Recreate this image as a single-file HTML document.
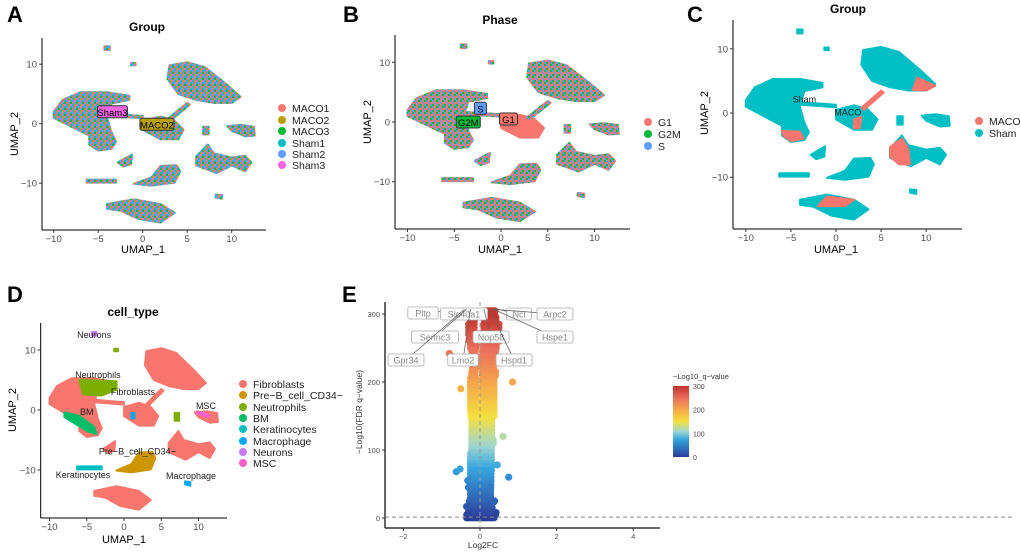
<!DOCTYPE html>
<html><head><meta charset="utf-8">
<style>
body{margin:0;background:#fff;}
svg{display:block;font-family:"Liberation Sans",sans-serif;}
</style></head>
<body>
<svg id="fig" width="1020" height="554" viewBox="0 0 1020 554" xmlns="http://www.w3.org/2000/svg">
<defs>
<pattern id="mix6" width="6" height="6" patternUnits="userSpaceOnUse">
<rect width="6" height="6" fill="#9aa37a"/>
<rect x="0" y="0" width="2" height="2" fill="#F8766D"/><rect x="2" y="0" width="2" height="2" fill="#619CFF"/><rect x="4" y="0" width="2" height="2" fill="#00BA38"/>
<rect x="0" y="2" width="2" height="2" fill="#00BFC4"/><rect x="2" y="2" width="2" height="2" fill="#B79F00"/><rect x="4" y="2" width="2" height="2" fill="#F564E3"/>
<rect x="0" y="4" width="2" height="2" fill="#619CFF"/><rect x="2" y="4" width="2" height="2" fill="#F8766D"/><rect x="4" y="4" width="2" height="2" fill="#00BFC4"/>
</pattern>
<pattern id="mix3" width="6" height="6" patternUnits="userSpaceOnUse">
<rect width="6" height="6" fill="#e07a78"/>
<rect x="0" y="0" width="2" height="2" fill="#F8766D"/><rect x="2" y="0" width="2" height="2" fill="#619CFF"/><rect x="4" y="0" width="2" height="2" fill="#F8766D"/>
<rect x="0" y="2" width="2" height="2" fill="#00BA38"/><rect x="2" y="2" width="2" height="2" fill="#F8766D"/><rect x="4" y="2" width="2" height="2" fill="#619CFF"/>
<rect x="0" y="4" width="2" height="2" fill="#619CFF"/><rect x="2" y="4" width="2" height="2" fill="#F8766D"/><rect x="4" y="4" width="2" height="2" fill="#00BA38"/>
</pattern>
<linearGradient id="cbar" x1="0" y1="1" x2="0" y2="0">
<stop offset="0" stop-color="#2b3d9a"/><stop offset="0.25" stop-color="#35a6e0"/><stop offset="0.36" stop-color="#9fd6cf"/><stop offset="0.5" stop-color="#f4e03e"/><stop offset="0.67" stop-color="#f5a64a"/><stop offset="0.83" stop-color="#ec6e5c"/><stop offset="1" stop-color="#c3322c"/>
</linearGradient>
</defs>
</svg>
<script>
const NS='http://www.w3.org/2000/svg';
const fig=document.getElementById('fig');
function mk(tag,attrs,parent,text){const e=document.createElementNS(NS,tag);for(const k in attrs)e.setAttribute(k,attrs[k]);if(text!==undefined)e.textContent=text;(parent||fig).appendChild(e);return e;}

// ---------- UMAP cluster shapes (data coords) ----------
const clusterNames=['main-left','top-right','center','right-small','right-middle','crescent','bottom','small-mid','strip-left','dot-top','dot-top2','dot-right','dot-center'];
const clusterShapes=[
[[-10,2],[-9,4],[-7,5.3],[-4,5.3],[-1.5,4.7],[-1.5,4],[-3.5,3.4],[-4,1],[-3.5,-1.5],[-3,-3],[-3.5,-4.2],[-5,-4.5],[-6,-3.5],[-6,-2],[-8,-0.5],[-10,1]],
[[5,10.3],[3,9.8],[2.8,7.5],[4,5],[6,4],[8,3.5],[10,3.5],[11,4.5],[9.5,6.5],[7,9.5]],
[[0,0.5],[2,1.2],[3.5,0.6],[4.6,-1],[4,-2.6],[2,-2.6],[0,-1]],
[[9.5,-0.4],[11,-0.2],[12.5,-0.5],[12.6,-2],[11.5,-2.1],[10,-1.2]],
[[6,-5.5],[7.3,-3.5],[8,-5],[10,-5.7],[11.5,-5.4],[12.2,-6.5],[11.5,-8],[10,-7],[8.3,-8.3],[6,-7]],
[[3.8,-7],[2,-7.1],[1,-9],[-1,-10.1],[1,-10.4],[3.6,-9.9],[4.2,-8]],
[[-4,-13.5],[-1,-12.7],[2,-13.5],[3.6,-15],[2,-16.6],[-0.5,-16],[-2.5,-14.6],[-4,-14.3]],
[[-2.8,-6.5],[-1.2,-5.2],[-1.3,-6.8],[-2.2,-7.2]],
[[-6.3,-9.4],[-3,-9.4],[-3,-9.9],[-6.3,-9.9]],
[[-4.3,13],[-3.7,13],[-3.7,12.4],[-4.3,12.4]],
[[-1.3,10.2],[-0.8,10.2],[-0.8,9.8],[-1.3,9.8]],
[[8.2,-11.9],[8.9,-12],[8.9,-12.6],[8.2,-12.4]],
[[6.8,-0.5],[7.4,-0.5],[7.4,-1.8],[6.8,-1.8]]
];
const bridge=[[-4,1.7],[0,1.3],[0,0.9],[-4,1.3]];
const bridge2=[[2.8,0.8],[5,3.5],[5.3,3.2],[3.1,0.5]];

const panels={
 A:{x0:142.7,ux:8.9,y0:123.7,uy:5.95,ax:42,ayTop:38,ayBot:230,axR:266},
 B:{x0:501,ux:9.35,y0:122,uy:5.97,ax:395,ayTop:35,ayBot:229,axR:630},
 C:{x0:836,ux:9.02,y0:113,uy:6.42,ax:733,ayTop:20,ayBot:229,axR:962},
 D:{x0:124,ux:7.45,y0:410,uy:6.0,ax:40.7,ayTop:323,ayBot:518,axR:227}
};
const umapXTicks=[-10,-5,0,5,10];
const umapYTicks=[-10,0,10];

function px(p,x){return p.x0+p.ux*x;}
function py(p,y){return p.y0-p.uy*y;}
function poly(p,pts,fill,g,name){
 const d=pts.map((q,i)=>(i?'L':'M')+px(p,q[0]).toFixed(1)+' '+py(p,q[1]).toFixed(1)).join(' ')+'Z';
 const e=mk('path',{d:d,fill:fill,stroke:fill,'stroke-width':2,'stroke-linejoin':'round'},g);
 
 
 return e;
}
function umapAxes(p,g,xlx,ylx,yly,xly){
 mk('line',{x1:p.ax,y1:p.ayTop,x2:p.ax,y2:p.ayBot,stroke:'#000','stroke-width':1},g);
 mk('line',{x1:p.ax,y1:p.ayBot,x2:p.axR,y2:p.ayBot,stroke:'#000','stroke-width':1},g);
 umapXTicks.forEach(t=>{const x=px(p,t);mk('line',{x1:x,y1:p.ayBot,x2:x,y2:p.ayBot+3,stroke:'#333'},g);
  const tl=mk('text',{x:x,y:p.ayBot+12,'font-size':9.5,fill:'#4d4d4d','text-anchor':'middle'},g,t===0?'0':String(t).replace('-','\u2212'));
  
  });
 umapYTicks.forEach(t=>{const y=py(p,t);mk('line',{x1:p.ax-3,y1:y,x2:p.ax,y2:y,stroke:'#333'},g);
  const tl=mk('text',{x:p.ax-5,y:y+3.5,'font-size':9.5,fill:'#4d4d4d','text-anchor':'end'},g,t===0?'0':String(t).replace('-','\u2212'));
  
  });
 const xl=mk('text',{x:xlx,y:xly,'font-size':11,fill:'#000','text-anchor':'middle'},g,'UMAP_1');
 
 
 const yl=mk('text',{x:ylx,y:yly,'font-size':11,fill:'#000','text-anchor':'middle',transform:`rotate(-90 ${ylx} ${yly})`},g,'UMAP_2');
 
 
}
function panelLetter(t,x,y){const e=mk('text',{x:x,y:y,'font-size':22,'font-weight':'bold'},fig,t);}
function title(t,x,y,g){const e=mk('text',{x:x,y:y,'font-size':12,'font-weight':'bold','text-anchor':'middle'},g,t);}
function legend(g,items,colors,cx,ys,tx){
 items.forEach((it,i)=>{const c=mk('circle',{cx:cx,cy:ys[i],r:4,fill:colors[i]},g);
  const t=mk('text',{x:tx,y:ys[i]+4,'font-size':10.5,fill:'#222'},g,it);});
}
function boxLabel(g,p,x,y,text,fill,w){
 const X=px(p,x),Y=py(p,y);
 mk('rect',{x:X-w/2,y:Y-6,width:w,height:12,rx:2,fill:fill,stroke:'#333','stroke-width':1},g);
 const t=mk('text',{x:X,y:Y+4,'font-size':9.5,'text-anchor':'middle',fill:'#000'},g,text);
 
 
}
function plainLabel(g,p,x,y,text){const t=mk('text',{x:px(p,x),y:py(p,y),'font-size':9,'text-anchor':'middle',fill:'#222'},g,text);}

// ---------- Panel A ----------
(function(){
 const p=panels.A;const g=mk('g',{});
 clusterShapes.forEach((s,i)=>poly(p,s,'url(#mix6)',g,'cluster-'+clusterNames[i]));
 poly(p,bridge,'url(#mix6)',g,'bridge');poly(p,bridge2,'url(#mix6)',g,'bridge');
 umapAxes(p,g,143,18,134,253);
 title('Group',147,31,g);
 boxLabel(g,p,-3.4,2,'Sham3','#F564E3',30);
 boxLabel(g,p,1.6,-0.1,'MACO2','#B79F00',34);
 legend(g,['MACO1','MACO2','MACO3','Sham1','Sham2','Sham3'],['#F8766D','#B79F00','#00BA38','#00BFC4','#619CFF','#F564E3'],282,[108,120,131,143,154,165],292);
})();
panelLetter('A',7,22);

// ---------- Panel B ----------
(function(){
 const p=panels.B;const g=mk('g',{});
 clusterShapes.forEach((s,i)=>poly(p,s,i===2?'#F8766D':'url(#mix3)',g,'cluster-'+clusterNames[i]));
 poly(p,bridge,'url(#mix3)',g,'bridge');poly(p,bridge2,'url(#mix3)',g,'bridge');
 umapAxes(p,g,500,371,122,253);
 title('Phase',500,24,g);
 boxLabel(g,p,-2.2,2.3,'S','#619CFF',12);
 boxLabel(g,p,-3.5,0,'G2M','#00BA38',24);
 boxLabel(g,p,0.8,0.5,'G1','#F8766D',18);
 legend(g,['G1','G2M','S'],['#F8766D','#00BA38','#619CFF'],648,[122,134,146],658);
})();
panelLetter('B',343,22);

// ---------- Panel C ----------
const cRedPatches=[
 [[-6,-2.8],[-4,-2.9],[-3.6,-4],[-5,-4.4],[-5.8,-3.6]],
 [[9,5.5],[10.5,4.6],[11,4.2],[10,3.5],[8.5,3.6]],
 [[6,-5.3],[7.3,-4],[8,-5.5],[8.2,-8],[7,-8],[6,-6.8]],
 [[2,-1],[2.8,-0.6],[2.6,-2.4],[2,-2.4]],
 [[-1,-13],[2,-13.5],[1,-14.5],[-2,-14.5]]
];
(function(){
 const p=panels.C;const g=mk('g',{});
 clusterShapes.forEach((s,i)=>poly(p,s,'#00BFC4',g,'cluster-'+clusterNames[i]));
 poly(p,bridge,'#00BFC4',g,'bridge');poly(p,bridge2,'#F8766D',g,'bridge');
 cRedPatches.forEach(s=>poly(p,s,'#F8766D',g,'maco-region'));
 umapAxes(p,g,836,708,113,253);
 title('Group',848,13,g);
 plainLabel(g,p,-3.5,1.6,'Sham');plainLabel(g,p,1.3,-0.4,'MACO');
 legend(g,['MACO','Sham'],['#F8766D','#00BFC4'],979,[121,133],989);
})();
panelLetter('C',687,22);

// ---------- Panel D ----------
const dColors=['#F8766D','#CD9600','#7CAE00','#00BE67','#00BFC4','#00A9FF','#C77CFF','#FF61CC'];
const dTypes=['Fibroblasts','Pre\u2212B_cell_CD34\u2212','Neutrophils','BM','Keratinocytes','Macrophage','Neurons','MSC'];
(function(){
 const p=panels.D;const g=mk('g',{});
 const typeOf=[0,0,0,0,0,1,0,0,4,6,2,5,2];
 clusterShapes.forEach((s,i)=>poly(p,s,dColors[typeOf[i]],g,'cluster-'+clusterNames[i]));
 poly(p,bridge,'#F8766D',g,'bridge');poly(p,bridge2,'#F8766D',g,'bridge');
 poly(p,[[-6,5],[-1,4.8],[-1,3.4],[-3,2.4],[-5.5,2.6]],'#7CAE00',g,'neutrophils-region');
 poly(p,[[-8,-0.4],[-6,-1],[-4,-2.8],[-3.7,-4],[-4.8,-3.6],[-8,-1.2]],'#00BE67',g,'bm-region');
 poly(p,[[9.8,-0.2],[11.5,-0.8],[11.3,-1.2],[9.8,-0.6]],'#FF61CC',g,'msc-region');
 poly(p,[[1,-0.5],[1.4,-0.5],[1.4,-1.4],[1,-1.4]],'#00A9FF',g,'macrophage-region');
 umapAxes(p,g,124,16,410,543);
 title('cell_type',133,316,g);
 plainLabel(g,p,-4,12,'Neurons');plainLabel(g,p,-3.5,5.3,'Neutrophils');plainLabel(g,p,1.2,2.5,'Fibroblasts');
 plainLabel(g,p,11,0.2,'MSC');plainLabel(g,p,-5,-0.8,'BM');plainLabel(g,p,1.8,-7.4,'Pre\u2212B_cell_CD34\u2212');
 plainLabel(g,p,-5.5,-11.3,'Keratinocytes');plainLabel(g,p,9,-11.5,'Macrophage');
 legend(g,dTypes,dColors,243,[384,395,407,418,429,441,452,463],253);
})();
panelLetter('D',7,302);

// ---------- Panel E: volcano ----------
const xTicksE=[-2,0,2,4];
const yTicksE=[0,100,200,300];
const bandLogQ=[0,10,20,30,40,50,60,70,80,90,100,110,120,130,140,150,160,170,180,190,200,210,220,230,240,250,260,270,280,290,300];
const leftMin =[-0.35,-0.3,-0.28,-0.25,-0.25,-0.25,-0.25,-0.25,-0.25,-0.25,-0.22,-0.22,-0.22,-0.22,-0.22,-0.24,-0.25,-0.25,-0.25,-0.25,-0.25,-0.22,-0.2,-0.2,-0.22,-0.25,-0.28,-0.3,-0.3,-0.25,null];
const leftMax =[-0.02,-0.02,-0.03,-0.03,-0.03,-0.04,-0.04,-0.05,-0.05,-0.05,-0.06,-0.06,-0.06,-0.07,-0.07,-0.08,-0.08,-0.08,-0.08,-0.09,-0.1,-0.1,-0.1,-0.1,-0.1,-0.1,-0.12,-0.12,-0.15,-0.15,null];
const rightMin=[0.02,0.02,0.03,0.03,0.03,0.04,0.04,0.05,0.05,0.05,0.05,0.05,0.06,0.06,0.06,0.07,0.07,0.07,0.07,0.07,0.07,0.06,0.06,0.05,0.06,0.08,0.1,0.1,0.1,0.12,0.14];
const rightMax=[0.4,0.32,0.3,0.3,0.32,0.3,0.3,0.3,0.32,0.3,0.32,0.35,0.35,0.35,0.35,0.4,0.4,0.38,0.4,0.4,0.38,0.42,0.4,0.42,0.45,0.45,0.5,0.5,0.5,0.45,0.42];
const outLfc =[-0.8,-0.5,0.85,0.6,-0.62,-0.52,0.75,0.45,-0.35,0.35,0.42,-0.3,0.28,-0.32,0.38,-0.3,0.4];
const outLogQ=[242,190,200,120,68,72,60,78,17,23,8,45,45,55,25,5,4];
const geneNames=['Pltp','Slc40a1','Ncl','Arpc2','Serinc3','Nop58','Hspe1','Gpr34','Lmo2','Hspd1'];
const geneLfc  =[-0.5,-0.35,0.45,0.3,-0.35,0.1,0.35,-0.4,-0.25,0.25];
const geneLogQ =[310,310,310,310,310,310,310,310,310,310];
const labelX=[423,464,519,555,435,491,555,406,463,514];
const labelY=[313,314,314,314,337,337,337,360,360,360];
(function(){
 const g=mk('g',{});
 const X=v=>480+38.3*v, Y=v=>518-0.68*v;
 const stops=[[0,[43,61,154]],[75,[53,166,224]],[108,[159,214,207]],[150,[244,224,62]],[200,[245,166,74]],[250,[236,110,92]],[300,[195,50,44]]];
 function col(v){v=Math.max(0,Math.min(300,v));for(let i=1;i<stops.length;i++){if(v<=stops[i][0]){const a=stops[i-1],b=stops[i],t=(v-a[0])/(b[0]-a[0]);return 'rgb('+a[1].map((c,k)=>Math.round(c+(b[1][k]-c)*t)).join(',')+')';}}return 'rgb(195,50,44)';}
 mk('line',{x1:385,y1:302,x2:385,y2:528,stroke:'#333','stroke-width':1.5},g);
 mk('line',{x1:385,y1:528,x2:660,y2:528,stroke:'#333','stroke-width':1.5},g);
 xTicksE.forEach(t=>{mk('line',{x1:X(t),y1:528,x2:X(t),y2:531,stroke:'#333'},g);const e=mk('text',{x:X(t),y:539,'font-size':7.5,fill:'#555','text-anchor':'middle'},g,t<0?'\u2212'+(-t):String(t));});
 yTicksE.forEach(t=>{mk('line',{x1:382,y1:Y(t),x2:385,y2:Y(t),stroke:'#333'},g);const e=mk('text',{x:380,y:Y(t)+3,'font-size':7.5,fill:'#555','text-anchor':'end'},g,String(t));});
 const xl=mk('text',{x:483,y:548,'font-size':8.5,fill:'#333','text-anchor':'middle'},g,'Log2FC');
 const yl=mk('text',{x:362,y:412,'font-size':8.5,fill:'#333','text-anchor':'middle',transform:'rotate(-90 362 412)'},g,'\u2212Log10(FDR q\u2212value)');
 const pg=mk('g',{},g);
 bandLogQ.forEach((q,i)=>{
  [[leftMin[i],leftMax[i]],[rightMin[i],rightMax[i]]].forEach(r=>{
   if(r[0]===null)return;
   for(let v=r[0];v<=r[1]+1e-9;v+=0.05){for(let dq=0;dq<10;dq+=5){
    const c=mk('circle',{cx:X(v).toFixed(1),cy:Y(q+dq).toFixed(1),r:3.4,fill:col(q+dq)},pg);
    
    
   }}
  });
 });
 outLfc.forEach((v,i)=>{const c=mk('circle',{cx:X(v),cy:Y(outLogQ[i]),r:3.6,fill:col(outLogQ[i])},pg);
  
  });
 mk('line',{x1:385,y1:Y(1.3),x2:1015,y2:Y(1.3),stroke:'#888','stroke-dasharray':'4 3'},g);
 mk('line',{x1:X(0),y1:302,x2:X(0),y2:528,stroke:'#999','stroke-dasharray':'4 3'},g);
 geneNames.forEach((n,i)=>{
  const w=n.length*5.6+8,lx=labelX[i],ly=labelY[i];
  mk('line',{x1:X(geneLfc[i]),y1:Y(geneLogQ[i])+2,x2:lx,y2:ly,stroke:'#666','stroke-width':0.8},g);
  mk('rect',{x:lx-w/2,y:ly-6,width:w,height:12,rx:2,fill:'#fff',stroke:'#aaa','stroke-width':0.8},g);
  const t=mk('text',{x:lx,y:ly+3.5,'font-size':9,fill:'#888','text-anchor':'middle'},g,n);
  
  
 });
 const lt=mk('text',{x:673,y:379,'font-size':7.5,fill:'#333'},g,'\u2212Log10_q\u2212value');
 const cb=mk('rect',{x:673,y:386,width:16,height:71,fill:'url(#cbar)'},g);
 yTicksE.forEach(t=>{const y=457-71*t/300;const e=mk('text',{x:693,y:y+3,'font-size':7,fill:'#444'},g,String(t));});
})();
panelLetter('E',342,302);
</script>
</body></html>
